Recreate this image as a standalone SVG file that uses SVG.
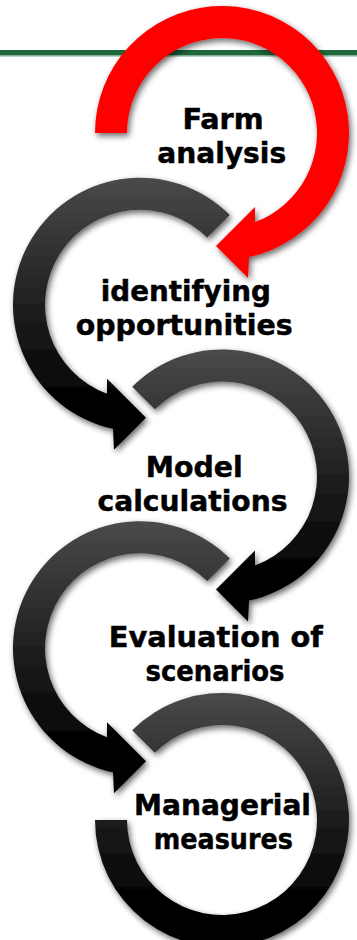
<svg xmlns="http://www.w3.org/2000/svg" width="357" height="940" viewBox="0 0 357 940">
<defs>
<linearGradient id="gBlack" x1="0" y1="0" x2="0" y2="1">
<stop offset="0" stop-color="#4a4a4a"/>
<stop offset="0.5" stop-color="#1c1c1c"/>
<stop offset="0.85" stop-color="#000"/>
<stop offset="1" stop-color="#000"/>
</linearGradient>
<filter id="sh" x="-20%" y="-20%" width="140%" height="140%">
<feGaussianBlur in="SourceAlpha" stdDeviation="3"/>
<feOffset dx="2" dy="3" result="b"/>
<feComponentTransfer><feFuncA type="linear" slope="0.6"/></feComponentTransfer>
<feMerge><feMergeNode/><feMergeNode in="SourceGraphic"/></feMerge>
</filter>
</defs>
<style>
.lbl{font-family:"DejaVu Sans Condensed","DejaVu Sans",sans-serif;font-stretch:condensed;font-weight:bold;font-size:29px;fill:#000;stroke:#000;stroke-width:0.45px;text-anchor:middle}
.red{fill:#ff0000;filter:url(#sh)}
.blk{fill:url(#gBlack);filter:url(#sh)}
</style>
<rect width="357" height="940" fill="#fff"/>
<g id="header-line">
<rect x="0" y="50" width="357" height="5.5" fill="#1e693a"/>
<rect x="0" y="55.5" width="357" height="1" fill="#7fa98e"/>
</g>
<g id="connectors">
<path class="red" d="M95,133 A127,127 0 1 1 249,257.1 L248,278 L216,246 L255,207 L255,222.1 A95,95 0 1 0 127,133 Z"/>
<path class="blk" d="M229.8,214.95 A127,127 0 1 0 113,428.85 L114,449.75 L146,417.75 L107,378.75 L107,393.85 A95,95 0 1 1 207.18,237.57 Z"/>
<path class="blk" d="M132.2,386.7 A127,127 0 1 1 249,600.6 L248,621.5 L216,589.5 L255,550.5 L255,565.6 A95,95 0 1 0 154.82,409.32 Z"/>
<path class="blk" d="M229.8,558.45 A127,127 0 1 0 113,772.35 L114,793.25 L146,761.25 L107,722.25 L107,737.35 A95,95 0 1 1 207.18,581.07 Z"/>
<path class="blk" d="M132.2,730.2 A127,127 0 1 1 95,820 L127,820 A95,95 0 1 0 154.82,752.82 Z"/>
</g>
<g id="node-farm-analysis">
<text class="lbl" x="223" y="128.5" textLength="81" lengthAdjust="spacingAndGlyphs">Farm</text>
<text class="lbl" x="221.7" y="163" textLength="129" lengthAdjust="spacingAndGlyphs">analysis</text>
</g>
<g id="node-identifying-opportunities">
<text class="lbl" x="185.8" y="300.5" textLength="170" lengthAdjust="spacingAndGlyphs">identifying</text>
<text class="lbl" x="184.2" y="335" textLength="217" lengthAdjust="spacingAndGlyphs">opportunities</text>
</g>
<g id="node-model-calculations">
<text class="lbl" x="194.2" y="476.5" textLength="97" lengthAdjust="spacingAndGlyphs">Model</text>
<text class="lbl" x="192.5" y="511" textLength="190" lengthAdjust="spacingAndGlyphs">calculations</text>
</g>
<g id="node-evaluation-of-scenarios">
<text class="lbl" x="215.8" y="646.5" textLength="214" lengthAdjust="spacingAndGlyphs">Evaluation of</text>
<text class="lbl" x="215" y="681" textLength="139" lengthAdjust="spacingAndGlyphs">scenarios</text>
</g>
<g id="node-managerial-measures">
<text class="lbl" x="222.5" y="814.5" textLength="177" lengthAdjust="spacingAndGlyphs">Managerial</text>
<text class="lbl" x="223.3" y="848.5" textLength="139" lengthAdjust="spacingAndGlyphs">measures</text>
</g>
</svg>
